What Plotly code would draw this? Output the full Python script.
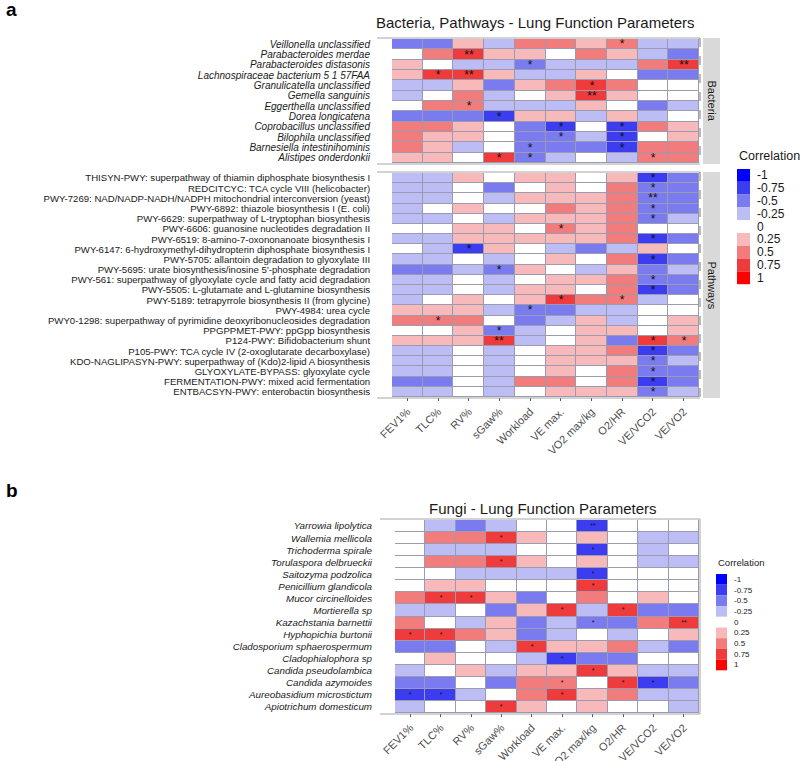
import plotly.graph_objects as go

W, H = 800, 761

params = ["FEV1%", "TLC%", "RV%", "sGaw%", "Workload", "VE max.", "VO2 max/kg", "O2/HR", "VE/VCO2", "VE/VO2"]

bacteria = [
    "Veillonella unclassified", "Parabacteroides merdae", "Parabacteroides distasonis",
    "Lachnospiraceae bacterium 5 1 57FAA", "Granulicatella unclassified", "Gemella sanguinis",
    "Eggerthella unclassified", "Dorea longicatena", "Coprobacillus unclassified",
    "Bilophila unclassified", "Barnesiella intestinihominis", "Alistipes onderdonkii",
]
bacteria_r = [
    [-0.5, -0.5, 0.25, -0.25, 0.5, 0.5, 0.25, 0.5, -0.25, -0.25],
    [0, 0.5, 0.75, 0.25, 0.25, 0, 0.5, 0.25, -0.25, -0.5],
    [0.25, 0, -0.25, -0.25, -0.5, -0.25, -0.25, -0.25, 0.5, 0.75],
    [0.25, 0.75, 0.75, 0.25, -0.25, -0.25, 0.25, 0, -0.5, -0.5],
    [-0.25, -0.25, 0.25, -0.5, 0.25, 0.5, 0.75, 0.5, 0, 0],
    [-0.25, 0, 0.5, -0.25, 0, 0.25, 0.75, 0.25, 0, 0],
    [0, 0.5, 0.5, -0.25, -0.25, -0.25, 0.25, 0, -0.5, -0.25],
    [-0.5, -0.5, -0.5, -0.75, 0.25, 0.25, -0.25, 0.25, -0.25, 0],
    [0.5, 0.5, 0.25, 0, -0.5, -0.75, 0, -0.75, 0.5, 0.25],
    [0.5, 0.25, 0.25, 0, -0.5, -0.5, -0.25, -0.75, 0, 0.25],
    [0.5, 0.25, -0.25, 0, -0.5, -0.5, -0.5, -0.75, 0.5, 0.5],
    [0.25, 0.25, 0, 0.75, -0.5, -0.25, 0, -0.25, 0.5, 0.5],
]
bacteria_sig = [
    ["", "", "", "", "", "", "", "*", "", ""],
    ["", "", "**", "", "", "", "", "", "", ""],
    ["", "", "", "", "*", "", "", "", "", "**"],
    ["", "*", "**", "", "", "", "", "", "", ""],
    ["", "", "", "", "", "", "*", "", "", ""],
    ["", "", "", "", "", "", "**", "", "", ""],
    ["", "", "*", "", "", "", "", "", "", ""],
    ["", "", "", "*", "", "", "", "", "", ""],
    ["", "", "", "", "", "*", "", "*", "", ""],
    ["", "", "", "", "", "*", "", "*", "", ""],
    ["", "", "", "", "*", "", "", "*", "", ""],
    ["", "", "", "*", "*", "", "", "", "*", ""],
]

pathways = [
    "THISYN-PWY: superpathway of thiamin diphosphate biosynthesis I",
    "REDCITCYC: TCA cycle VIII (helicobacter)",
    "PWY-7269: NAD/NADP-NADH/NADPH mitochondrial interconversion (yeast)",
    "PWY-6892: thiazole biosynthesis I (E. coli)",
    "PWY-6629: superpathway of L-tryptophan biosynthesis",
    "PWY-6606: guanosine nucleotides degradation II",
    "PWY-6519: 8-amino-7-oxononanoate biosynthesis I",
    "PWY-6147: 6-hydroxymethyl-dihydropterin diphosphate biosynthesis I",
    "PWY-5705: allantoin degradation to glyoxylate III",
    "PWY-5695: urate biosynthesis/inosine 5'-phosphate degradation",
    "PWY-561: superpathway of glyoxylate cycle and fatty acid degradation",
    "PWY-5505: L-glutamate and L-glutamine biosynthesis",
    "PWY-5189: tetrapyrrole biosynthesis II (from glycine)",
    "PWY-4984: urea cycle",
    "PWY0-1298: superpathway of pyrimidine deoxyribonucleosides degradation",
    "PPGPPMET-PWY: ppGpp biosynthesis",
    "P124-PWY: Bifidobacterium shunt",
    "P105-PWY: TCA cycle IV (2-oxoglutarate decarboxylase)",
    "KDO-NAGLIPASYN-PWY: superpathway of (Kdo)2-lipid A biosynthesis",
    "GLYOXYLATE-BYPASS: glyoxylate cycle",
    "FERMENTATION-PWY: mixed acid fermentation",
    "ENTBACSYN-PWY: enterobactin biosynthesis",
]
pathways_r = [
    [-0.25, -0.25, 0.25, 0, 0.25, 0.25, 0, 0.25, -0.75, -0.5],
    [-0.25, -0.25, 0, -0.5, 0, 0.25, 0, 0.5, -0.5, -0.5],
    [-0.25, -0.25, 0, -0.25, 0.25, 0.25, 0.25, 0.5, -0.5, -0.5],
    [-0.25, 0, 0.25, 0, 0, 0.5, 0.25, 0.5, -0.5, -0.5],
    [-0.25, -0.25, 0, -0.25, 0.25, 0.25, 0.25, 0.5, -0.5, -0.25],
    [0, 0, 0.25, 0.25, 0, 0.5, 0.25, 0.5, 0, 0],
    [-0.25, -0.25, 0.25, 0.25, 0.25, 0.25, 0.25, 0.5, -0.75, -0.5],
    [0, -0.25, -0.75, 0.25, 0, -0.25, -0.5, -0.25, 0.25, 0],
    [-0.25, -0.25, 0, -0.25, 0, 0.25, 0, 0.5, -0.75, -0.5],
    [-0.5, -0.5, -0.25, -0.5, 0.25, 0, -0.25, 0.25, -0.5, -0.25],
    [-0.25, -0.25, 0, -0.25, 0, 0.25, 0.25, 0.5, -0.5, -0.5],
    [-0.25, -0.25, 0, -0.25, 0.25, 0.25, 0, 0.5, -0.75, -0.5],
    [-0.25, 0, 0.25, 0, 0.25, 0.75, 0.5, 0.5, -0.25, 0],
    [0.25, 0.25, 0.25, -0.25, -0.5, -0.5, -0.25, -0.25, 0, 0],
    [0.5, 0.5, 0.5, 0, -0.5, -0.25, 0.25, -0.25, 0, 0.25],
    [0, 0, 0.25, -0.5, -0.25, 0, 0.25, 0.25, 0, 0.25],
    [0.25, 0.25, 0.25, 0.75, -0.25, 0, 0.25, -0.5, 0.75, 0.5],
    [-0.25, -0.25, 0, -0.25, 0, 0.25, 0.25, 0.5, -0.75, -0.5],
    [-0.25, -0.25, 0, -0.25, 0, 0.25, 0.25, 0.25, -0.5, -0.25],
    [-0.25, -0.25, 0, -0.25, 0, 0.25, 0, 0.5, -0.5, -0.5],
    [-0.5, -0.5, 0, -0.25, 0.5, 0.5, 0, 0.5, -0.75, -0.5],
    [-0.25, -0.25, 0, -0.25, 0, 0.25, 0.25, 0.25, -0.5, -0.25],
]
pathways_sig = [
    ["", "", "", "", "", "", "", "", "*", ""],
    ["", "", "", "", "", "", "", "", "*", ""],
    ["", "", "", "", "", "", "", "", "**", ""],
    ["", "", "", "", "", "", "", "", "*", ""],
    ["", "", "", "", "", "", "", "", "*", ""],
    ["", "", "", "", "", "*", "", "", "", ""],
    ["", "", "", "", "", "", "", "", "*", ""],
    ["", "", "*", "", "", "", "", "", "", ""],
    ["", "", "", "", "", "", "", "", "*", ""],
    ["", "", "", "*", "", "", "", "", "", ""],
    ["", "", "", "", "", "", "", "", "*", ""],
    ["", "", "", "", "", "", "", "", "*", ""],
    ["", "", "", "", "", "*", "", "*", "", ""],
    ["", "", "", "", "*", "", "", "", "", ""],
    ["", "*", "", "", "", "", "", "", "", ""],
    ["", "", "", "*", "", "", "", "", "", ""],
    ["", "", "", "**", "", "", "", "", "*", "*"],
    ["", "", "", "", "", "", "", "", "*", ""],
    ["", "", "", "", "", "", "", "", "*", ""],
    ["", "", "", "", "", "", "", "", "*", ""],
    ["", "", "", "", "", "", "", "", "*", ""],
    ["", "", "", "", "", "", "", "", "*", ""],
]

fungi = [
    "Yarrowia lipolytica", "Wallemia mellicola", "Trichoderma spirale", "Torulaspora delbrueckii",
    "Saitozyma podzolica", "Penicillium glandicola", "Mucor circinelloides", "Mortierella sp",
    "Kazachstania barnettii", "Hyphopichia burtonii", "Cladosporium sphaerospermum",
    "Cladophialophora sp", "Candida pseudolambica", "Candida azymoides",
    "Aureobasidium microstictum", "Apiotrichum domesticum",
]
fungi_r = [
    [0, -0.25, -0.5, -0.25, 0, 0, -0.75, 0, 0, 0],
    [0, 0.5, 0.5, 0.75, 0.25, 0, 0.25, 0, -0.25, -0.25],
    [0, -0.25, -0.25, -0.25, 0, 0, -0.75, 0, -0.25, 0],
    [0, 0.5, 0.5, 0.75, 0.25, 0, 0.25, 0, -0.25, -0.25],
    [0, 0, -0.25, -0.25, -0.25, -0.25, -0.75, 0, 0, 0],
    [0, 0.25, 0.25, 0, 0, 0, 0.75, 0, 0, 0],
    [0.5, 0.75, 0.75, 0.25, -0.5, 0, 0.5, 0, 0.25, 0],
    [-0.25, -0.25, 0, -0.5, 0.25, 0.75, -0.25, 0.75, -0.5, -0.5],
    [0.5, 0, -0.25, 0.25, -0.5, -0.25, -0.5, -0.5, 0.5, 0.75],
    [0.75, 0.75, 0.5, 0.25, -0.5, -0.25, 0, -0.25, 0, 0.25],
    [-0.5, -0.5, 0, -0.25, 0.75, 0.25, 0.25, 0.5, -0.25, -0.5],
    [0, 0.25, 0, 0, -0.25, -0.75, -0.5, -0.5, 0, 0],
    [-0.25, 0, 0.25, -0.25, 0.25, 0.25, 0.75, 0.25, -0.25, -0.25],
    [-0.5, -0.5, 0, -0.5, 0.5, 0.5, 0, 0.75, -0.75, -0.5],
    [-0.75, -0.75, -0.25, 0, 0.5, 0.75, 0.25, 0.5, -0.25, -0.25],
    [-0.25, 0, 0, 0.75, 0.25, 0, 0.25, 0, 0, -0.25],
]
fungi_sig = [
    ["", "", "", "", "", "", "**", "", "", ""],
    ["", "", "", "*", "", "", "", "", "", ""],
    ["", "", "", "", "", "", "*", "", "", ""],
    ["", "", "", "*", "", "", "", "", "", ""],
    ["", "", "", "", "", "", "*", "", "", ""],
    ["", "", "", "", "", "", "*", "", "", ""],
    ["", "*", "*", "", "", "", "", "", "", ""],
    ["", "", "", "", "", "*", "", "*", "", ""],
    ["", "", "", "", "", "", "*", "", "", "**"],
    ["*", "*", "", "", "", "", "", "", "", ""],
    ["", "", "", "", "*", "", "", "", "", ""],
    ["", "", "", "", "", "*", "", "", "", ""],
    ["", "", "", "", "", "", "*", "", "", ""],
    ["", "", "", "", "", "*", "", "*", "*", ""],
    ["*", "*", "", "", "", "*", "", "", "", ""],
    ["", "", "", "*", "", "", "", "", "", ""],
]

legend_labels = ["-1", "-0.75", "-0.5", "-0.25", "0", "0.25", "0.5", "0.75", "1"]
level_colors = ["#0000ff", "#3c3cf0", "#7b7bf0", "#bdbdf5", "#ffffff",
                "#f7b9b9", "#f27b7b", "#ef3b3b", "#ff0000"]

# stepped colour scale, one band per legend level
cscale = []
n = len(level_colors)
for i, c in enumerate(level_colors):
    lo = 0 if i == 0 else (i - 0.5) / (n - 1)
    hi = 1 if i == n - 1 else (i + 0.5) / (n - 1)
    cscale += [[lo, c], [hi, c]]

FONT = "Liberation Sans, Arial, sans-serif"


def px_x(x):
    return x / W


def px_y(y):
    return 1 - y / H


fig = go.Figure()

panels = [
    (bacteria, bacteria_r, bacteria_sig, "x", "y", 12),
    (pathways, pathways_r, pathways_sig, "x2", "y2", 12),
    (fungi, fungi_r, fungi_sig, "x3", "y3", 7),
]
for rows, vals, sig, xa, ya, ssize in panels:
    fig.add_trace(go.Heatmap(
        z=vals, x=params, y=rows, text=sig, texttemplate="%{text}",
        textfont=dict(size=ssize, color="#111111", family=FONT),
        colorscale=cscale, zmin=-1, zmax=1, showscale=False,
        xgap=1, ygap=1, xaxis=xa, yaxis=ya, hoverinfo="skip",
    ))


def yax(rows, dom, ital, size, anchor, gap):
    return dict(
        domain=dom, anchor=anchor, automargin=False,
        categoryorder="array", categoryarray=rows, autorange="reversed",
        tickvals=rows, ticktext=[("<i>%s</i>" % r) if ital else r for r in rows],
        tickfont=dict(size=size, color="#1a1a1a", family=FONT),
        showgrid=False, zeroline=False, showline=False,
        ticks="outside", ticklen=gap, tickcolor="rgba(0,0,0,0)",
    )


def xax(dom, show, anchor):
    return dict(
        domain=dom, anchor=anchor, automargin=False, range=[-0.5, 9.5],
        showgrid=False, zeroline=False,
        showticklabels=show, tickangle=-45, ticks="outside" if show else "", ticklen=3,
        tickcolor="#555555", tickfont=dict(size=11, color="#4d4d4d", family=FONT),
    )


fig.update_layout(
    width=W, height=H, margin=dict(l=0, r=0, t=0, b=0, pad=0),
    paper_bgcolor="white", plot_bgcolor="#9b9bb0",
    font=dict(family=FONT),
    xaxis=xax([px_x(392), px_x(699)], False, "y"),
    yaxis=yax(bacteria, [px_y(163), px_y(39)], True, 10, "x", 19),
    xaxis2=xax([px_x(392), px_x(699)], True, "y2"),
    yaxis2=yax(pathways, [px_y(397), px_y(173)], False, 9.6, "x2", 19),
    xaxis3=xax([px_x(395), px_x(699)], True, "y3"),
    yaxis3=yax(fungi, [px_y(713), px_y(520)], True, 9.8, "x3", 20),
)

shapes = []
annots = []


def note(x, y, text, size, xa="center", ya="middle", angle=0, color="#1a1a1a"):
    annots.append(dict(x=px_x(x), y=px_y(y), xref="paper", yref="paper", showarrow=False,
                       xanchor=xa, yanchor=ya, textangle=angle, text=text,
                       font=dict(size=size, color=color, family=FONT)))


def pline(x0, y0, x1, y1, color="#a6a6a6", dash="solid"):
    shapes.append(dict(type="line", xref="paper", yref="paper", x0=px_x(x0), x1=px_x(x1),
                       y0=px_y(y0), y1=px_y(y1), line=dict(color=color, width=1, dash=dash)))


# panel frame lines and facet strips
for y0, y1 in [(39, 163), (173, 397)]:
    pline(377, y0 - 1, 700, y0 - 1)
    pline(377, y1 + 1, 700, y1 + 1)
    pline(700, y0 - 1, 700, y1 + 1, color="#777777", dash="dash")
    shapes.append(dict(type="rect", xref="paper", yref="paper", x0=px_x(703), x1=px_x(720),
                       y0=px_y(y1 + 1), y1=px_y(y0 - 1), fillcolor="#d9d9d9", line=dict(width=0)))
pline(380, 519, 700, 519)
pline(380, 714, 700, 714)
pline(700, 519, 700, 714)

note(711.5, 101, "Bacteria", 11, angle=90)
note(711.5, 285, "Pathways", 11, angle=90)

note(535, 22, "Bacteria, Pathways - Lung Function Parameters", 15)
note(543, 508, "Fungi - Lung Function Parameters", 15)
note(4, 9, "<b>a</b>", 19, xa="left", color="black")
note(4, 490, "<b>b</b>", 19, xa="left", color="black")

# legends
for lx, ly, bw, bh, tsize, lsize in [(737, 169, 13, 12.8, 12.5, 12), (716, 574, 11, 10.7, 9.5, 8)]:
    note(lx, ly - 4, "Correlation", tsize, xa="left", ya="bottom")
    for i, (lab, col) in enumerate(zip(legend_labels, level_colors)):
        y0 = ly + i * bh
        shapes.append(dict(type="rect", xref="paper", yref="paper", x0=px_x(lx), x1=px_x(lx + bw),
                           y0=px_y(y0 + bh), y1=px_y(y0), fillcolor=col, line=dict(width=0)))
        note(lx + bw + 5, y0 + bh / 2, lab, lsize, xa="left")

fig.update_layout(shapes=shapes, annotations=annots)

fig.write_html("out.html", config={"displayModeBar": False},
               post_script="document.body.style.margin='0';document.body.style.overflow='hidden';")
